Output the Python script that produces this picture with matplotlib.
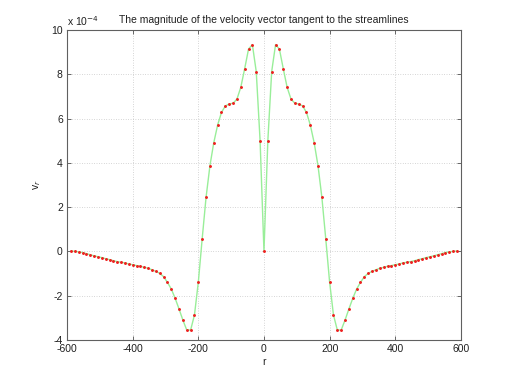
import numpy as np
import matplotlib
matplotlib.use("Agg")
import matplotlib.pyplot as plt

# radial positions (positive half; the profile is symmetric about r = 0)
r_half = [0.0, 11.8, 23.5, 35.3, 47.0, 58.8, 70.6, 82.3, 94.1, 105.8,
          117.6, 129.4, 141.1, 152.9, 164.6, 176.4, 188.2, 199.9, 211.7, 223.4,
          235.2, 247.0, 258.7, 270.5, 282.2, 294.0, 305.8, 317.5, 329.3, 341.0,
          352.8, 364.6, 376.3, 388.1, 399.8, 411.6, 423.4, 435.1, 446.9, 458.6,
          470.4, 482.2, 493.9, 505.7, 517.4, 529.2, 541.0, 552.7, 564.5, 576.2,
          588.0]
# velocity magnitude (x 1e-4)
v_half = [0.00, 5.00, 8.12, 9.34, 9.14, 8.25, 7.41, 6.88, 6.69, 6.66,
          6.57, 6.28, 5.71, 4.91, 3.87, 2.44, 0.57, -1.38, -2.87, -3.55,
          -3.55, -3.10, -2.60, -2.12, -1.70, -1.40, -1.14, -0.99, -0.90, -0.83,
          -0.76, -0.72, -0.67, -0.64, -0.60, -0.57, -0.52, -0.49, -0.46, -0.42,
          -0.37, -0.33, -0.28, -0.24, -0.20, -0.15, -0.10, -0.05, -0.02, 0.00,
          0.02]

r = np.concatenate([-np.array(r_half[:0:-1]), np.array(r_half)])
v = np.concatenate([np.array(v_half[:0:-1]), np.array(v_half)])

xticks = [-600, -400, -200, 0, 200, 400, 600]
yticks = [-4, -2, 0, 2, 4, 6, 8, 10]

plt.rcParams['font.family'] = ['Liberation Sans', 'DejaVu Sans']
fig = plt.figure(figsize=(5.09, 3.82), dpi=100)
ax = fig.add_axes([0.1316, 0.110, 0.774, 0.8115])

ax.plot(r, v, color='#99ee99', lw=1.0, zorder=2)
ax.plot(r, v, ls='none', marker='.', ms=2.2, color='#ee2020', zorder=3)

ax.set_xlim(-600, 600)
ax.set_ylim(-4, 10)
ax.set_xticks(xticks)
ax.set_yticks(yticks)
ax.set_xticklabels([str(t) for t in xticks])
ax.set_yticklabels([str(t) for t in yticks])
ax.grid(True, ls=(0, (1, 2.5)), color='#b0b0b0', lw=0.5)
ax.tick_params(direction='in', length=3, width=0.6, labelsize=7.5, colors='#505050',
               labelcolor='#202020', top=True, right=True, pad=3)
for s in ax.spines.values():
    s.set_color('#606060')
    s.set_linewidth(0.8)

ax.set_title('The magnitude of the velocity vector tangent to the streamlines',
             fontsize=7.5, pad=5, color='#202020')
ax.set_xlabel('r', fontsize=7.5, labelpad=2, color='#202020')
ax.set_ylabel('v$_r$', fontsize=7.5, labelpad=6, color='#202020')
ax.text(0.0, 1.005, r'x 10$^{-4}$', transform=ax.transAxes, fontsize=7.5,
        ha='left', va='bottom', color='#202020')

fig.savefig('out.png', dpi=100)
